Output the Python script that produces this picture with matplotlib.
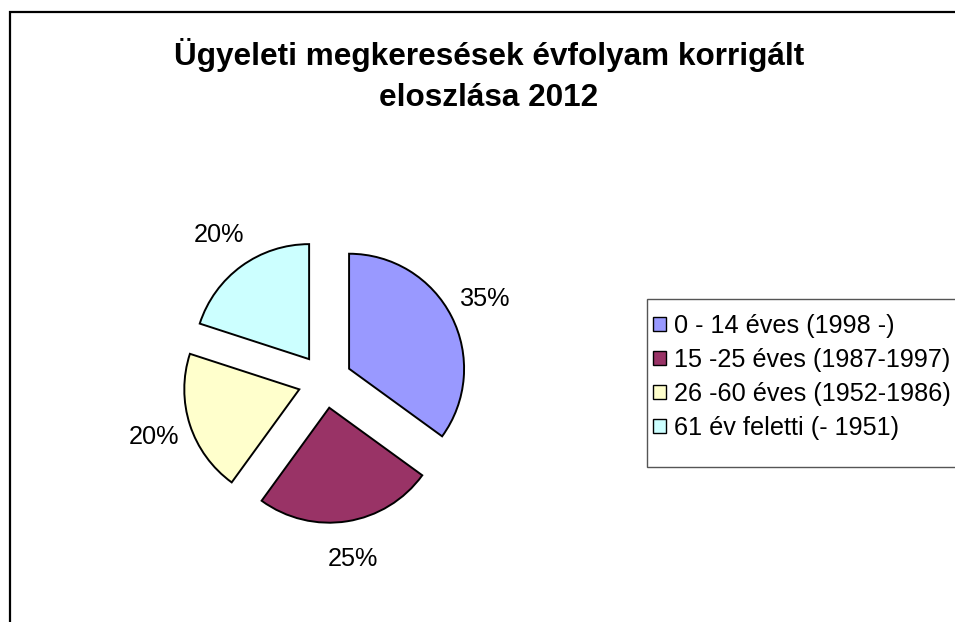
import matplotlib.pyplot as plt
from matplotlib.patches import Rectangle

plt.rcParams['font.family'] = ['Liberation Sans', 'DejaVu Sans']

labels = ['0 - 14 éves (1998 -)', '15 -25 éves (1987-1997)',
          '26 -60 éves (1952-1986)', '61 év feletti (- 1951)']
shares = [35, 25, 20, 20]
colors = ['#9999FF', '#993366', '#FFFFCC', '#CCFFFF']
title_lines = ['Ügyeleti megkeresések évfolyam korrigált', 'eloszlása 2012']

W, H = 955, 622
fig = plt.figure(figsize=(W / 100, H / 100), dpi=100)

# frame of the chart area (only left and top visible)
fig.patches.append(Rectangle((10 / W, -0.05), 1.2, (H - 12) / H + 0.05,
                             transform=fig.transFigure, fill=False,
                             edgecolor='black', linewidth=1.6))

# pie: center and radius in pixels, axes spans whole figure
cx, cy, r = 325, 381, 115
ax = fig.add_axes([0, 0, 1, 1])
wedges, texts, autotexts = ax.pie(
    shares, colors=colors, startangle=90, counterclock=False,
    explode=[0.235] * len(shares), autopct='%1.0f%%', pctdistance=1.33,
    wedgeprops=dict(edgecolor='black', linewidth=1.4),
    textprops=dict(fontsize=18.2, color='black'))
ax.set_xlim(-cx / r, (W - cx) / r)
ax.set_ylim(-(H - cy) / r, cy / r)
ax.set_aspect('equal')
ax.axis('off')

# title, two lines
fig.text(489 / W, 1 - 65 / H, title_lines[0], ha='center', va='baseline',
         fontsize=22.7, fontweight='bold')
fig.text(489 / W, 1 - 106 / H, title_lines[1], ha='center', va='baseline',
         fontsize=22.7, fontweight='bold')

# legend box drawn separately (Excel style, extra room at the bottom)
fig.patches.append(Rectangle((647 / W, 1 - 467 / H), 0.5, 168 / H,
                             transform=fig.transFigure, facecolor='white',
                             edgecolor='#555555', linewidth=1.0))
leg = fig.legend(wedges, labels, loc='upper left',
                 bbox_to_anchor=(638 / W, 1 - 299 / H), borderaxespad=0,
                 fontsize=18.2, frameon=False, handlelength=0.5,
                 handleheight=0.5, handletextpad=0.33, labelspacing=0.39,
                 borderpad=0.6)
for h in leg.legend_handles:
    h.set_linewidth(1.0)

plt.savefig('out.png', dpi=100)
